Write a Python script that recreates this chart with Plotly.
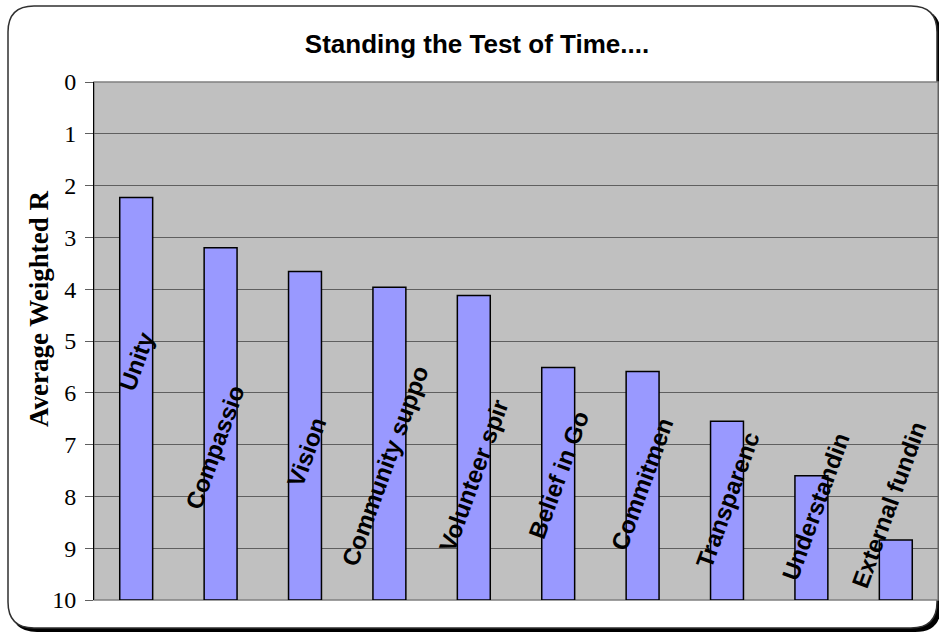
import plotly.graph_objects as go

# ---- data ----
categories = ["Unity", "Compassion", "Vision", "Community support", "Volunteer spirit",
              "Belief in God", "Commitment", "Transparency", "Understanding", "External funding"]
visible_labels = ["Unity", "Compassio", "Vision", "Community suppo", "Volunteer spir",
                  "Belief in Go", "Commitmen", "Transparenc", "Understandin", "External fundin"]
avg_rank = [2.23, 3.2, 3.66, 3.96, 4.12, 5.51, 5.59, 6.55, 7.6, 8.84]
y_ticks = [0, 1, 2, 3, 4, 5, 6, 7, 8, 9, 10]
title_text = "Standing the Test of Time...."
y_title = "Average Weighted R"

# ---- layout constants (pixels) ----
W, H = 939, 634
L, R, T, B = 94, 1, 82, 34
PW, PH = W - L - R, H - T - B
AXMAX = 10

# label placement (rank-axis centre of each rotated label, px shift)
label_y = [5.39, 7.05, 7.14, 7.41, 7.6, 7.59, 7.76, 8.07, 8.19, 8.15]
label_dx = [0, -6, 2, -4, 0, 0, 0, 0, 4, -7]


def px(xp):
    return (xp - L) / PW


def py(yp):
    return (H - B - yp) / PH


def rounded(x0, y0, x1, y1, r):
    pts = []
    pts.append(f"M {px(x0 + r)} {py(y0)}")
    pts.append(f"L {px(x1 - r)} {py(y0)}")
    pts.append(f"Q {px(x1)} {py(y0)} {px(x1)} {py(y0 + r)}")
    pts.append(f"L {px(x1)} {py(y1 - r)}")
    pts.append(f"Q {px(x1)} {py(y1)} {px(x1 - r)} {py(y1)}")
    pts.append(f"L {px(x0 + r)} {py(y1)}")
    pts.append(f"Q {px(x0)} {py(y1)} {px(x0)} {py(y1 - r)}")
    pts.append(f"L {px(x0)} {py(y0 + r)}")
    pts.append(f"Q {px(x0)} {py(y0)} {px(x0 + r)} {py(y0)}")
    pts.append("Z")
    return " ".join(pts)


xs = list(range(len(categories)))

fig = go.Figure()
fig.add_trace(go.Bar(
    x=xs,
    y=[v - AXMAX for v in avg_rank],
    base=AXMAX,
    width=0.39,
    marker=dict(color="#9999FF", line=dict(color="black", width=1.5)),
    customdata=avg_rank,
    text=categories,
    hovertemplate="%{text}: %{customdata}<extra></extra>",
    textposition="none",
))

shapes = [
    # shadow
    dict(type="path", xref="paper", yref="paper", path=rounded(11, 9, 941, 632, 26),
         fillcolor="black", line=dict(width=0), layer="below"),
    # outer box
    dict(type="path", xref="paper", yref="paper", path=rounded(8, 6, 937, 628, 26),
         fillcolor="white", line=dict(color="#303030", width=1.5), layer="below"),
    # plot area
    dict(type="rect", xref="paper", yref="paper", x0=0, x1=1, y0=0, y1=1,
         fillcolor="#C0C0C0", line=dict(color="#808080", width=1.5), layer="below"),
]

annotations = []
for i, lab in enumerate(visible_labels):
    annotations.append(dict(
        x=xs[i], y=label_y[i], xref="x", yref="y", text=f"<b>{lab}</b>", showarrow=False,
        textangle=-70, xanchor="center", yanchor="middle", xshift=label_dx[i],
        font=dict(family="Liberation Sans", size=24, color="black"),
    ))
annotations.append(dict(
    x=px(39), y=py(309), xref="paper", yref="paper", text=f"<b>{y_title}</b>",
    showarrow=False, textangle=-90, xanchor="center", yanchor="middle",
    font=dict(family="Liberation Serif", size=27, color="black"),
))

fig.update_layout(
    width=W, height=H,
    margin=dict(l=L, r=R, t=T, b=B, pad=0),
    paper_bgcolor="white",
    plot_bgcolor="rgba(0,0,0,0)",
    showlegend=False,
    title=dict(text=f"<b>{title_text}</b>", x=477 / W, xref="container", xanchor="center",
               y=1 - 44 / H, yref="container", yanchor="middle",
               font=dict(family="Liberation Sans", size=26, color="black")),
    xaxis=dict(range=[-0.5, len(categories) - 0.5], showticklabels=False, showgrid=False,
               zeroline=False, showline=False, ticks="", fixedrange=True),
    yaxis=dict(range=[AXMAX, 0], tickmode="array", tickvals=y_ticks,
               ticktext=[str(t) for t in y_ticks], showgrid=True, gridcolor="#5f5f5f",
               gridwidth=1, zeroline=False, showline=True, linecolor="black", linewidth=1,
               ticks="outside", ticklen=8, tickcolor="#5f5f5f", ticklabelstandoff=4,
               tickfont=dict(family="Liberation Serif", size=24, color="black")),
    shapes=shapes,
    annotations=annotations,
    bargap=0.6,
)

fig.write_html("out.html", config={"displayModeBar": False},
               post_script="document.body.style.margin='0';document.body.style.overflow='hidden';")
